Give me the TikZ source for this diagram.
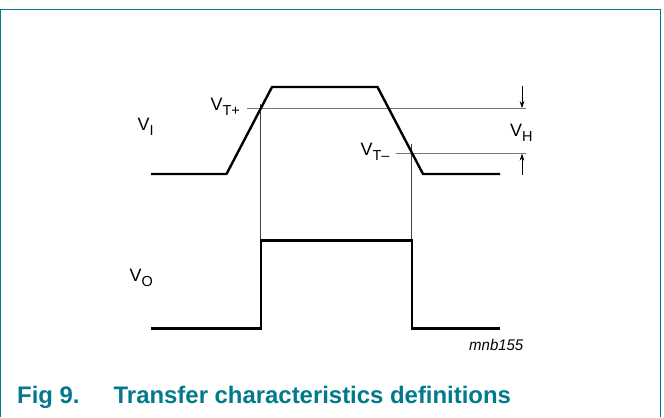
\documentclass[tikz,border=0pt]{standalone}
\usepackage{fontspec}
\setmainfont{Liberation Sans}
\usetikzlibrary{arrows.meta}
\definecolor{nxpteal}{RGB}{0,122,140}
\definecolor{thingray}{RGB}{120,120,120}
\newcommand{\subtxt}[1]{\raisebox{-0.3em}{\fontsize{14.5}{14.5}\selectfont #1}}
\begin{document}
\begin{tikzpicture}[x=1bp,y=-1bp,
  wave/.style={line width=2.4bp,line join=miter,black},
  thr/.style={line width=1bp,thingray},
  drop/.style={line width=0.9bp,black!75},
  dim/.style={line width=0.8bp,black,-{Stealth[length=7bp,width=4.5bp]}},
  lab/.style={inner sep=0pt,anchor=base west,font=\fontsize{18}{18}\selectfont},
  caption/.style={inner sep=0pt,anchor=base west,text=nxpteal,font=\bfseries\fontsize{24}{24}\selectfont}]
\useasboundingbox (0,0) rectangle (664,417);
\fill[white] (0,0) rectangle (664,417);
\draw[nxpteal,line width=1.3bp] (0.6,417) -- (0.6,9.6) -- (660.4,9.6) -- (660.4,417);
% input waveform
\coordinate (i0) at (151,174);
\coordinate (i1) at (226.5,174);
\coordinate (i2) at (272,87);
\coordinate (i3) at (377.5,87);
\coordinate (i4) at (423,174);
\coordinate (i5) at (500,174);
% thresholds
\coordinate (tp0) at (246.5,108.7);
\coordinate (tp1) at (526,108.7);
\coordinate (tm0) at (396,153);
\coordinate (tm1) at (526,153);
% drop lines
\coordinate (d1a) at (260.7,104);
\coordinate (d1b) at (260.7,240);
\coordinate (d2a) at (411.7,144);
\coordinate (d2b) at (411.7,240);
% output
\coordinate (o0) at (151,328.3);
\coordinate (o1) at (260.7,328.3);
\coordinate (o2) at (260.7,240.5);
\coordinate (o3) at (411.7,240.5);
\coordinate (o4) at (411.7,328.3);
\coordinate (o5) at (500,328.3);
% dimension arrows
\coordinate (a1) at (522,86);
\coordinate (a1t) at (522,108.2);
\coordinate (a2) at (522,175);
\coordinate (a2t) at (522,153.5);

\draw[thr] (tp0) -- (tp1);
\draw[thr] (tm0) -- (tm1);
\draw[drop] (d1a) -- (d1b);
\draw[drop] (d2a) -- (d2b);
\draw[wave] (i0) -- (i1) -- (i2) -- (i3) -- (i4) -- (i5);
\draw[wave] (o0) -- (o1) -- (o2) -- (o3) -- (o4) -- (o5);
\draw[dim] (a1) -- (a1t);
\draw[dim] (a2) -- (a2t);

\node[lab] (vi) at (137.5,130) {V\subtxt{I}};
\node[lab] (vtp) at (210.5,110) {V\subtxt{T+}};
\node[lab] (vtm) at (360.5,155) {V\subtxt{T\textendash}};
\node[lab] (vh) at (510,136) {V\subtxt{H}};
\node[lab] (vo) at (129.5,281) {V\subtxt{O}};
\node[inner sep=0pt,anchor=base west,font=\itshape\fontsize{15.5}{15.5}\selectfont] (id) at (469,350) {\scalebox{0.97}[1]{mnb155}};
\node[caption] (fig) at (17,403.3) {Fig 9.};
\node[caption] (title) at (113.5,403.3) {Transfer characteristics definitions};
\end{tikzpicture}
\end{document}
